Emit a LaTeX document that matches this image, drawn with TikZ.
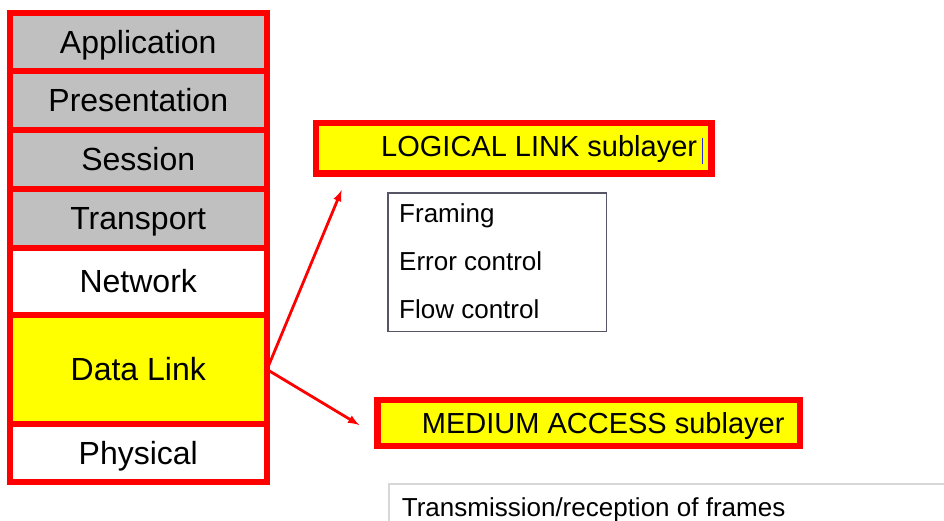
\documentclass[tikz,border=0pt]{standalone}
\usepackage{fontspec}
\setmainfont{Liberation Sans}
\usepackage{tikz}
\usetikzlibrary{arrows}
\definecolor{osired}{RGB}{255,0,0}
\definecolor{osigray}{RGB}{192,192,192}
\definecolor{osiyellow}{RGB}{255,255,0}
\definecolor{listframe}{RGB}{85,85,102}
\definecolor{macframe}{RGB}{215,215,215}
\definecolor{cursorblue}{RGB}{40,40,230}
\tikzset{arrow/.style={->, >=latex}}
\tikzset{
  layer/.style={draw=osired, line width=6pt, outer sep=0pt, minimum width=257.5pt,
    text height=22.5pt, text depth=0pt, font=\fontsize{32pt}{38pt}\selectfont},
  sublayer/.style={draw=osired, fill=osiyellow, line width=6.5pt, outer sep=0pt},
  subtext/.style={anchor=base west, inner sep=0pt, font=\fontsize{29pt}{35pt}\selectfont},
  listtext/.style={anchor=base west, inner sep=0pt, font=\fontsize{26pt}{31pt}\selectfont}
}

\begin{document}
\begin{tikzpicture}[x=1pt, y=-1pt]
    \useasboundingbox (0,0) rectangle (944,521);
    % the seven layers
    \node[layer, fill=osigray, minimum height=58pt] (app) at (138.25,42) {Application};
    \node[layer, fill=osigray, minimum height=59pt] (pres) at (138.25,100.5) {Presentation};
    \node[layer, fill=osigray, minimum height=59pt] (sess) at (138.25,159.5) {Session};
    \node[layer, fill=osigray, minimum height=59pt] (trans) at (138.25,218.5) {Transport};
    \node[layer, fill=white, minimum height=67pt] (net) at (138.25,281.5) {Network};
    \node[layer, fill=osiyellow, minimum height=109pt] (dl) at (138.25,369.5) {Data Link};
    \node[layer, fill=white, minimum height=57.5pt] (phys) at (138.25,452.75) {Physical};

    % logical link sublayer
    \node[sublayer, minimum width=395.5pt, minimum height=50.5pt] (llc) at (513.75,148.25) {};
    \node[subtext] (llctxt) at (381,156.7) {LOGICAL LINK sublayer};
    \draw[cursorblue, line width=1pt] (702.7,137.7) -- (702.7,164.3);
    \node[draw=listframe, line width=1.5pt, anchor=north west, outer sep=0pt,
      minimum width=218.5pt, minimum height=138.5pt] (llclist) at (388,193) {};
    \foreach \txt [count=\i] in {Framing, Error control, Flow control}
      \node[listtext] (item\i) at (399,{175.5+47.5*\i}) {\txt};

    % medium access sublayer
    \node[sublayer, minimum width=422.7pt, minimum height=45.8pt] (mac) at (588.65,422.9) {};
    \node[subtext] (mactxt) at (421.7,433) {MEDIUM ACCESS sublayer};
    \node[draw=macframe, line width=1.5pt, anchor=north west, outer sep=0pt,
      minimum width=600pt, minimum height=80pt] (maclist) at (389,484) {};
    \node[listtext] (macitem) at (401.7,516) {Transmission/reception of frames};

    % arrows out of the data link layer
    \coordinate (llctip) at (341.7,190);
    \coordinate (mactip) at (359.3,425);
    \draw[arrow, osired, line width=2.8pt] (dl.east) -- (llctip);
    \draw[arrow, osired, line width=2.8pt] (dl.east) -- (mactip);
  \end{tikzpicture}
\end{document}
